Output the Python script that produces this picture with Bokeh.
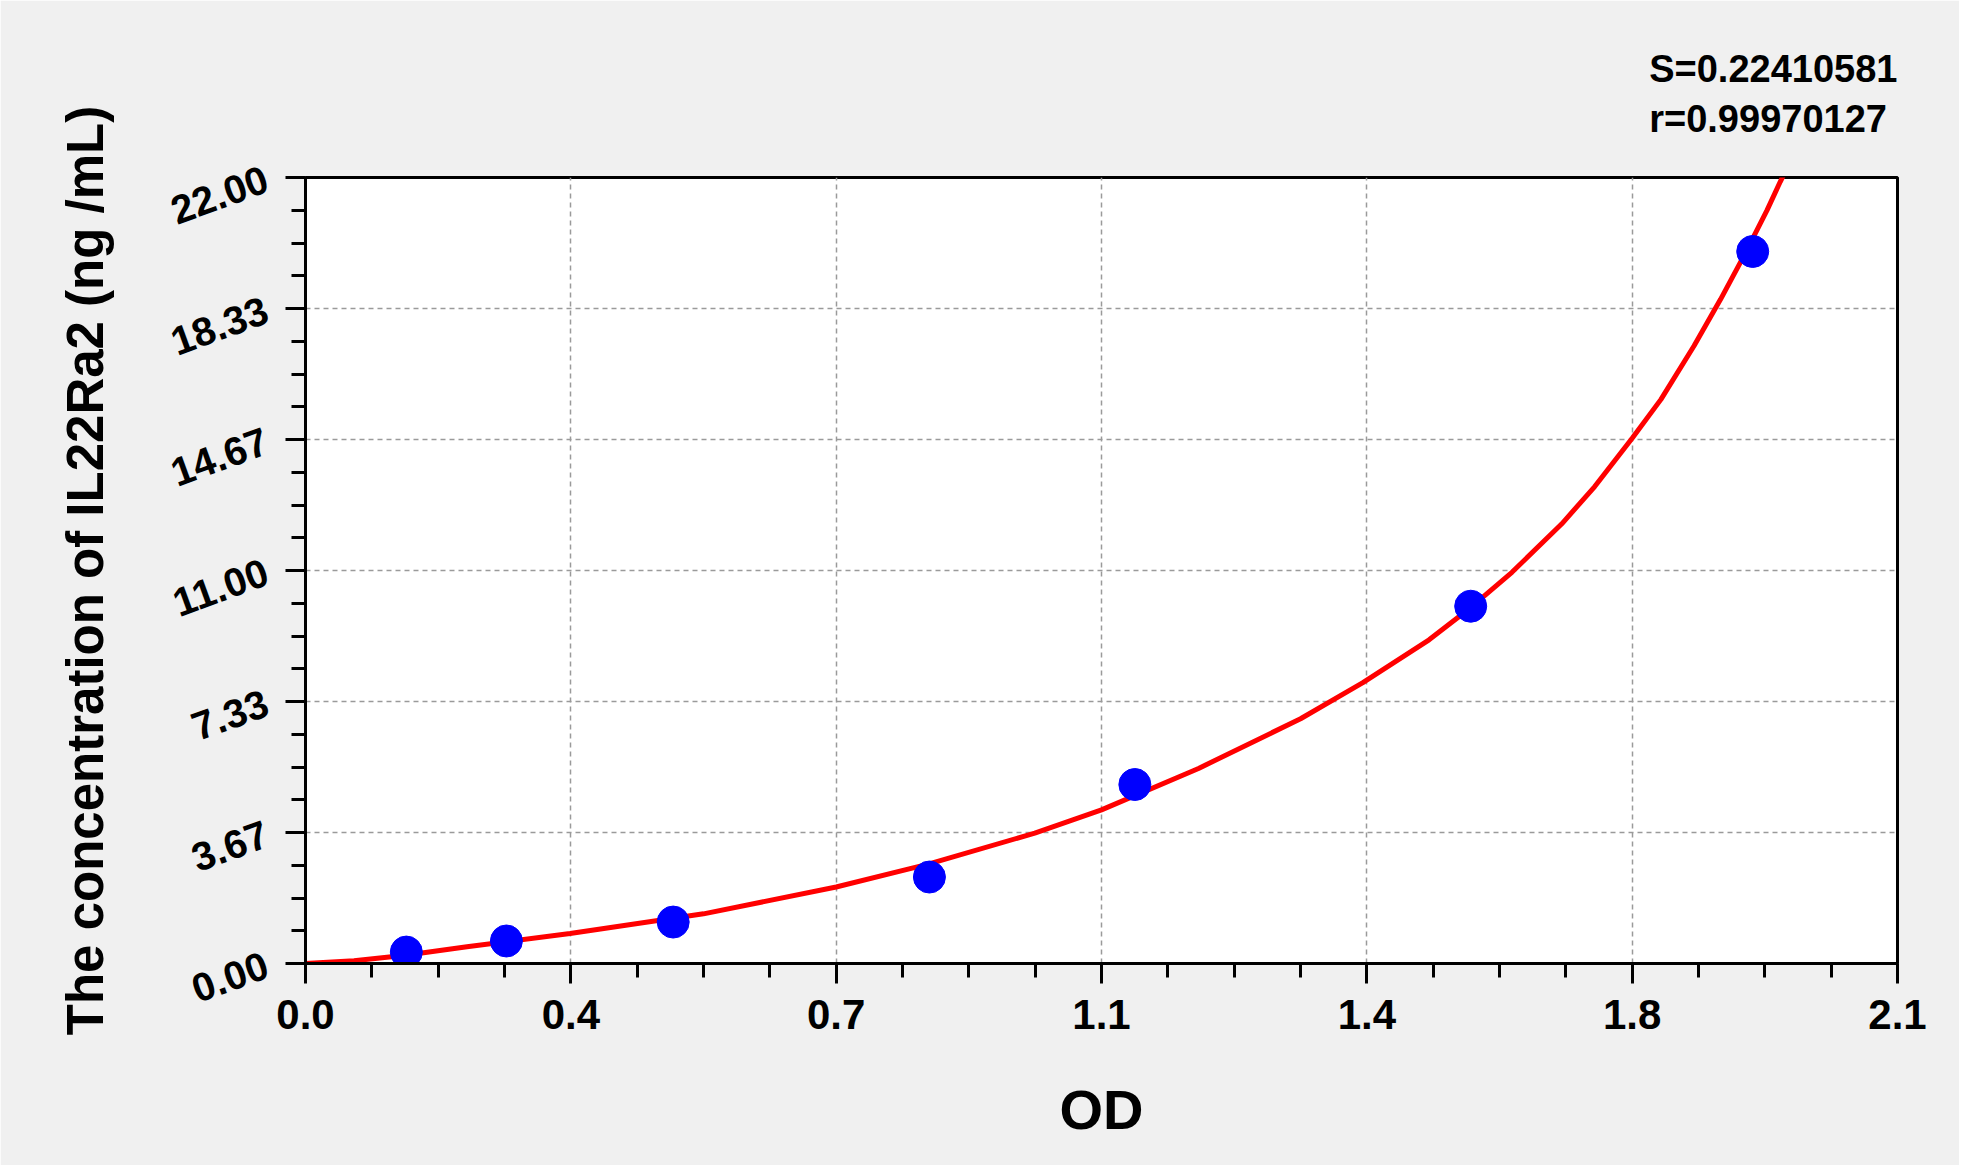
from bokeh.plotting import figure
from bokeh.models import Range1d, FixedTicker, Title
from bokeh.embed import file_html
from bokeh.resources import INLINE
import math

# ---- data ----
od = [0.133, 0.265, 0.485, 0.823, 1.094, 1.537, 1.909]
conc = [0.32, 0.63, 1.16, 2.42, 5.01, 10.0, 19.93]

fit_od = [0.0, 0.064, 0.132, 0.213, 0.349, 0.525, 0.70, 0.8215, 0.962, 1.05,
          1.178, 1.3126, 1.3948, 1.4821, 1.5368, 1.5914, 1.6569, 1.7006,
          1.75, 1.788, 1.8317, 1.8666, 1.8972, 1.9278, 1.9453, 1.962]
fit_conc = [0.0, 0.075, 0.233, 0.467, 0.84, 1.39, 2.14, 2.78, 3.65, 4.30,
            5.46, 6.85, 7.86, 9.06, 9.96, 10.95, 12.30, 13.35,
            14.70, 15.79, 17.29, 18.59, 19.80, 21.08, 21.88, 22.60]

x_ticks = [0.0, 0.35, 0.70, 1.05, 1.40, 1.75, 2.10]
x_tick_labels = ["0.0", "0.4", "0.7", "1.1", "1.4", "1.8", "2.1"]
y_ticks = [0.0, 22 / 6, 44 / 6, 11.0, 88 / 6, 110 / 6, 22.0]
y_tick_labels = ["0.00", "3.67", "7.33", "11.00", "14.67", "18.33", "22.00"]

stat_s = "S=0.22410581"
stat_r = "r=0.99970127"

FONT = "Liberation Sans"

p = figure(width=1959, height=1165,
           x_range=Range1d(0, 2.1), y_range=Range1d(0, 22),
           output_backend="svg", toolbar_location=None,
           min_border_left=305, min_border_right=62,
           min_border_top=177, min_border_bottom=202)

p.background_fill_color = "white"
p.border_fill_color = "#f0f0f0"
p.outline_line_color = "black"
p.outline_line_width = 3

def minors(ticks):
    out = []
    for a, b in zip(ticks[:-1], ticks[1:]):
        for k in (1, 2, 3):
            out.append(a + (b - a) * k / 4)
    return out

p.xaxis.ticker = FixedTicker(ticks=x_ticks, minor_ticks=minors(x_ticks))
p.yaxis.ticker = FixedTicker(ticks=y_ticks, minor_ticks=minors(y_ticks))
p.xaxis.major_label_overrides = {t: l for t, l in zip(x_ticks, x_tick_labels)}
p.yaxis.major_label_overrides = {t: l for t, l in zip(y_ticks, y_tick_labels)}

for ax in (p.xaxis, p.yaxis):
    ax.axis_line_width = 3
    ax.axis_line_color = "black"
    ax.major_tick_line_width = 3
    ax.minor_tick_line_width = 3
    ax.major_tick_line_color = "black"
    ax.minor_tick_line_color = "black"
    ax.major_tick_out = 20
    ax.major_tick_in = 0
    ax.minor_tick_out = 14
    ax.minor_tick_in = 0
    ax.major_label_text_font = FONT
    ax.major_label_text_font_style = "bold"
    ax.major_label_text_font_size = "42px"
    ax.major_label_text_color = "black"
    ax.axis_label_text_font = FONT
    ax.axis_label_text_font_style = "bold"
    ax.axis_label_text_color = "black"

p.xaxis.major_label_standoff = 16
p.yaxis.major_label_standoff = 19
p.yaxis.major_label_text_font_size = "40px"
p.yaxis.major_label_orientation = math.pi / 9
p.yaxis.major_label_text_baseline = "bottom"

p.xaxis.axis_label = "OD"
p.xaxis.axis_label_text_font_size = "56px"
p.xaxis.axis_label_standoff = 46

p.yaxis.axis_label = "The concentration of IL22Ra2 (ng /mL)"
p.yaxis.axis_label_text_font_size = "51px"
p.yaxis.axis_label_standoff = 46

for g in (p.xgrid, p.ygrid):
    g.grid_line_color = "#9a9a9a"
    g.grid_line_dash = "5 4"
    g.grid_line_width = 1.5

p.line(fit_od, fit_conc, line_color="#ff0000", line_width=5)
p.scatter(od, conc, size=32, fill_color="#0000ff", line_color="#0000ff")

p.add_layout(Title(text=stat_s + "\n" + stat_r, align="right", text_font=FONT,
                   text_font_style="bold", text_font_size="38px",
                   text_line_height=1.2,
                   text_color="black", standoff=74), "above")

open("out.html", "w").write(file_html(p, INLINE))
